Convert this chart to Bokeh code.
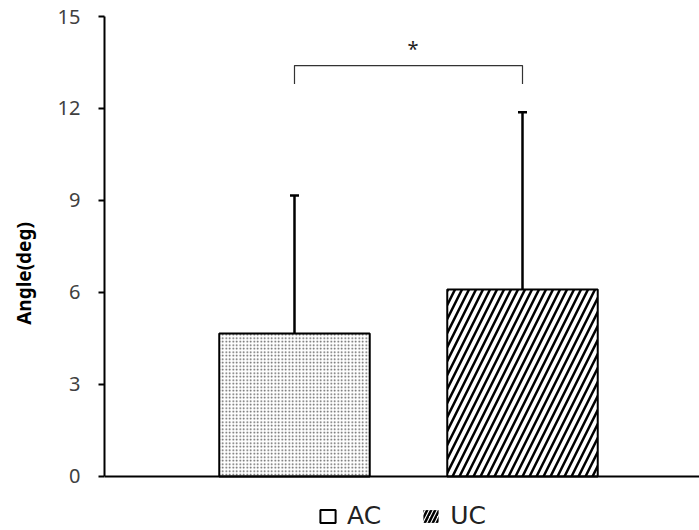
from bokeh.plotting import figure
from bokeh.models import (ColumnDataSource, Range1d, FixedTicker, Whisker, TeeHead,
                          Span, Legend, LegendItem, CDSView, IndexFilter)
from bokeh.embed import file_html
from bokeh.resources import INLINE
from bokeh.core.properties import value

# ---- data ----
categories = ["AC", "UC"]
means = [4.66, 6.10]
sds = [4.50, 5.78]
y_ticks = [0, 3, 6, 9, 12, 15]
sig_text = "*"
sig_level = 13.4
sig_drop = 0.6

xs = [i + 1 for i in range(len(categories))]
upper = [m + s for m, s in zip(means, sds)]
lower = [m - s for m, s in zip(means, sds)]

src = ColumnDataSource(dict(x=xs, top=means, upper=upper, lower=lower, cat=categories))

FONT = "Noto Sans"
LFONT = "DejaVu Sans"

p = figure(width=699, height=530, output_backend="svg", toolbar_location=None,
           x_range=Range1d(0.1667, 2.7763), y_range=Range1d(-1.761, 15),
           x_axis_location=None,
           min_border_left=104, min_border_right=0, min_border_top=16, min_border_bottom=0)
p.outline_line_color = None
p.grid.visible = False
p.background_fill_color = "white"

# y axis
ya = p.yaxis[0]
ya.bounds = (0, 15)
ya.ticker = FixedTicker(ticks=y_ticks, minor_ticks=[])
ya.axis_line_width = 2
ya.axis_line_color = "black"
ya.major_tick_line_width = 2
ya.major_tick_line_color = "black"
ya.major_tick_in = 0
ya.major_tick_out = 6
ya.minor_tick_line_color = None
ya.major_label_standoff = 18
ya.major_label_text_font = FONT
ya.major_label_text_font_size = "20px"
ya.major_label_text_color = "#404040"
ya.axis_label = "Angle(deg)"
ya.axis_label_text_font = FONT
ya.axis_label_text_font_style = "bold"
ya.axis_label_text_font_size = "19px"
ya.axis_label_text_color = "black"
ya.axis_label_standoff = 18

# x axis line at zero
p.add_layout(Span(location=0, dimension="width", line_color="black", line_width=2))

# bars
bar_w = 0.66
p.vbar(x="x", top="top", width=bar_w, bottom=0, source=src,
       view=CDSView(filter=IndexFilter([0])),
       fill_color="white", line_color="black", line_width=2,
       hatch_pattern=".", hatch_color="#555555", hatch_scale=3.5, hatch_weight=1)
p.vbar(x="x", top="top", width=bar_w, bottom=0, source=src,
       view=CDSView(filter=IndexFilter([1])),
       fill_color="white", line_color="black", line_width=2,
       hatch_pattern="/", hatch_color="black", hatch_scale=14, hatch_weight=2.5)

# error bars
p.add_layout(Whisker(base="x", upper="upper", lower="lower", source=src,
                     line_width=2.5, line_color="black",
                     upper_head=TeeHead(size=9, line_width=2.5, line_color="black"),
                     lower_head=TeeHead(size=9, line_width=2.5, line_color="black")))

# significance bracket
p.line(x=[xs[0], xs[0], xs[1], xs[1]],
       y=[sig_level - sig_drop, sig_level, sig_level, sig_level - sig_drop],
       line_color="#333333", line_width=1.2)
p.text(x=[(xs[0] + xs[1]) / 2 + 0.02], y=[sig_level + 0.55], text=[sig_text],
       text_align="center", text_baseline="middle",
       text_font=value(FONT), text_font_size="20px", text_color="#222222")

# legend swatches (zero-size glyphs, used only for the legend)
r_ac = p.vbar(x="x", top=0, bottom=0, width=0, source=src,
              fill_color="white", line_color="black", line_width=2)
r_uc = p.vbar(x="x", top=0, bottom=0, width=0, source=src,
              fill_alpha=0, line_alpha=0,
              hatch_pattern="/", hatch_color="black", hatch_scale=8, hatch_weight=2.5)
legend = Legend(items=[LegendItem(label=categories[0], renderers=[r_ac]),
                       LegendItem(label=categories[1], renderers=[r_uc])],
                orientation="horizontal", location=(214, 0),
                border_line_color=None, background_fill_alpha=0,
                padding=2, margin=0, spacing=40, label_standoff=10,
                glyph_width=19, glyph_height=16,
                label_text_font=LFONT, label_text_font_size="25px",
                label_text_color="#222222")
p.add_layout(legend)

open("out.html", "w").write(file_html(p, INLINE))
